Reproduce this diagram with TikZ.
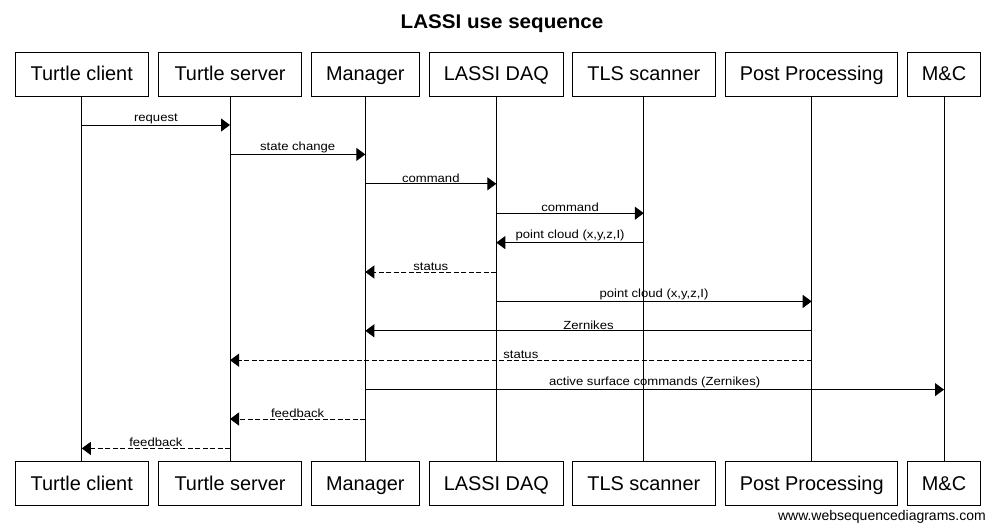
\documentclass[tikz,border=0pt]{standalone}
\usepackage{fontspec}
\setmainfont{Liberation Sans}
\newfontfamily\lblfont[FakeStretch=1.11]{Liberation Sans}
\newfontfamily\ttlfont[FakeStretch=1.04]{Liberation Sans}
\usetikzlibrary{arrows.meta}
\tikzset{
  actor/.style={draw=black, line width=1pt, minimum height=44pt, inner sep=0pt,
    text height=13.6pt, text depth=0pt, font=\fontsize{19.9}{22}\selectfont},
  life/.style={draw=black, line width=1pt},
  msg/.style={draw=black, line width=1pt, -{Triangle[length=9pt,width=13pt]}},
  reply/.style={msg, dash pattern=on 5pt off 2.5pt},
  lbl/.style={midway, above, inner sep=0.8pt, font=\lblfont\fontsize{11.8}{14}\selectfont}
}
\begin{document}
\begin{tikzpicture}[x=1pt,y=-1pt]
\useasboundingbox (0,0) rectangle (995,531);
\fill[white] (0,0) rectangle (995,531);
\node[anchor=base, inner sep=0pt, font=\ttlfont\bfseries\fontsize{19.8}{22}\selectfont] (title) at (502,28.3) {LASSI use sequence};
% top actors
\node[actor, minimum width=133pt]   (tc)  at (81.8,74)  {Turtle client};
\node[actor, minimum width=143.4pt] (ts)  at (230,74)   {Turtle server};
\node[actor, minimum width=108pt]   (mg)  at (365.3,74) {Manager};
\node[actor, minimum width=134pt]   (daq) at (496.3,74) {LASSI DAQ};
\node[actor, minimum width=143pt]   (tls) at (643.8,74) {TLS scanner};
\node[actor, minimum width=172pt]   (pp)  at (811.7,74) {Post Processing};
\node[actor, minimum width=72.6pt]  (mc)  at (944,74)   {M\&C};
% bottom actors
\node[actor, minimum width=133pt]   (tcb)  at (81.8,483.5)  {Turtle client};
\node[actor, minimum width=143.4pt] (tsb)  at (230,483.5)   {Turtle server};
\node[actor, minimum width=108pt]   (mgb)  at (365.3,483.5) {Manager};
\node[actor, minimum width=134pt]   (daqb) at (496.3,483.5) {LASSI DAQ};
\node[actor, minimum width=143pt]   (tlsb) at (643.8,483.5) {TLS scanner};
\node[actor, minimum width=172pt]   (ppb)  at (811.7,483.5) {Post Processing};
\node[actor, minimum width=72.6pt]  (mcb)  at (944,483.5)   {M\&C};
% lifelines
\foreach \a in {tc,ts,mg,daq,tls,pp,mc}{
  \draw[life] (\a.south) -- (\a b.north);
}
% messages
\draw[msg]   (tc  |- 0,125)   -- node[lbl]{request} (ts |- 0,125);
\draw[msg]   (ts  |- 0,154.4) -- node[lbl]{state change} (mg |- 0,154.4);
\draw[msg]   (mg  |- 0,183.8) -- node[lbl]{command} (daq |- 0,183.8);
\draw[msg]   (daq |- 0,213.2) -- node[lbl]{command} (tls |- 0,213.2);
\draw[msg]   (tls |- 0,242.6) -- node[lbl]{point cloud (x,y,z,I)} (daq |- 0,242.6);
\draw[reply] (daq |- 0,272)   -- node[lbl]{status} (mg |- 0,272);
\draw[msg]   (daq |- 0,301.4) -- node[lbl]{point cloud (x,y,z,I)} (pp |- 0,301.4);
\draw[msg]   (pp  |- 0,330.8) -- node[lbl]{Zernikes} (mg |- 0,330.8);
\draw[reply] (pp  |- 0,360.2) -- node[lbl]{status} (ts |- 0,360.2);
\draw[msg]   (mg  |- 0,389.6) -- node[lbl]{active surface commands (Zernikes)} (mc |- 0,389.6);
\draw[reply] (mg  |- 0,419)   -- node[lbl]{feedback} (ts |- 0,419);
\draw[reply] (ts  |- 0,448.4) -- node[lbl]{feedback} (tc |- 0,448.4);
% watermark
\node[anchor=east, inner sep=0pt, font=\fontsize{14}{16}\selectfont] (wm) at (986,516.5) {www.websequencediagrams.com};
\end{tikzpicture}
\end{document}
